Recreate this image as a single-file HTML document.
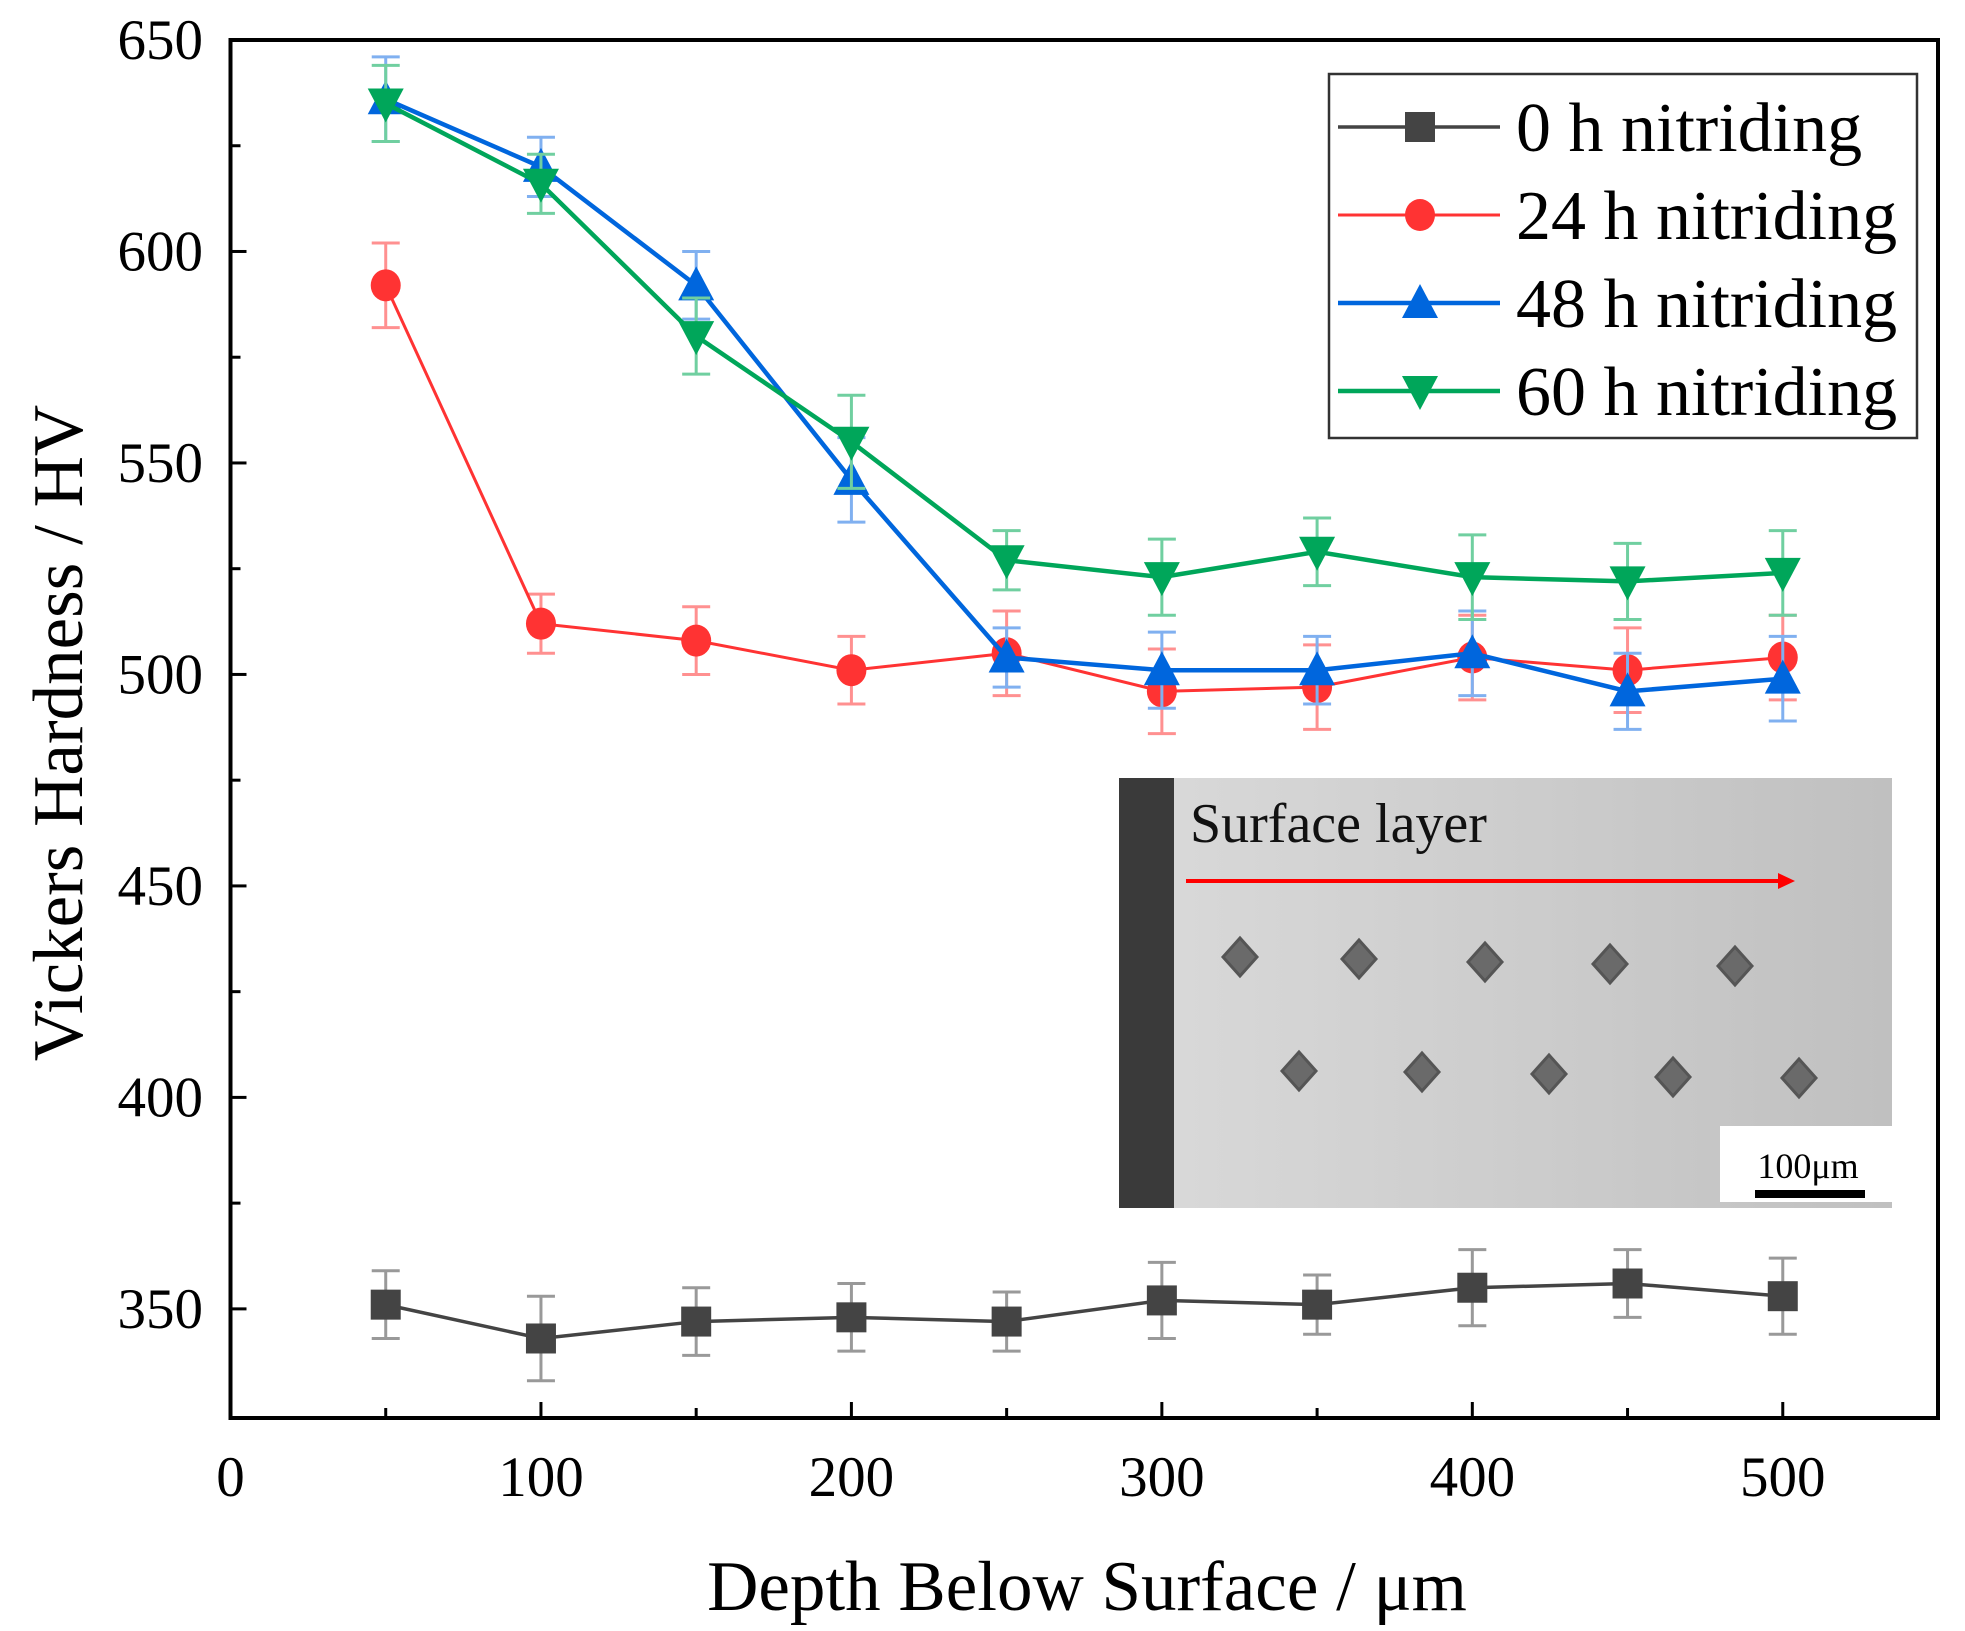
<!DOCTYPE html>
<html><head><meta charset="utf-8"><style>
html,body{margin:0;padding:0;background:#fff}
svg{display:block;font-family:"Liberation Serif",serif}
</style></head><body>
<svg id="chart" width="1965" height="1631" viewBox="0 0 1965 1631">
<g id="inset">
<defs><linearGradient id="bg" x1="0" x2="1" y1="0" y2="0"><stop offset="0" stop-color="#dadada"/><stop offset="1" stop-color="#c0c0c0"/></linearGradient></defs>
<rect x="1119" y="778" width="773" height="430" fill="url(#bg)"/>
<rect x="1119" y="778" width="55" height="430" fill="#3a3a3a"/>
<text x="1190" y="842" font-size="56" fill="#111">Surface layer</text>
<line x1="1186" y1="881" x2="1780" y2="881" stroke="#ff0000" stroke-width="4"/>
<polygon points="1795,881 1778,873 1778,889" fill="#ff0000"/>
<g fill="#666" id="indents"></g>
<rect x="1720" y="1126" width="172" height="76" fill="#fff"/>
<text x="1808" y="1178" font-size="36" text-anchor="middle" fill="#000">100μm</text>
<rect x="1755" y="1190" width="110" height="8" fill="#000"/>
</g>
<g id="plot"></g>
<g id="legend"></g>
</svg>
<script>
const xValues=[50,100,150,200,250,300,350,400,450,500];
const h0=[351,343,347,348,347,352,351,355,356,353];
const h0err=[8,10,8,8,7,9,7,9,8,9];
const h24=[592,512,508,501,505,496,497,504,501,504];
const h24err=[10,7,8,8,10,10,10,10,10,10];
const h48=[636,620,592,546,504,501,501,505,496,499];
const h48err=[10,7,8,10,7,9,8,10,9,10];
const h60=[635,616,580,555,527,523,529,523,522,524];
const h60err=[9,7,9,11,7,9,8,10,9,10];
const xTicks=[0,100,200,300,400,500];
const yTicks=[350,400,450,500,550,600,650];
const names=["0 h nitriding","24 h nitriding","48 h nitriding","60 h nitriding"];

const NS="http://www.w3.org/2000/svg";
const L=230.5,R=1938,T=40,B=1418,X0=0,X1=550,Y0=324.2,Y1=650;
const sx=v=>L+(v-X0)/(X1-X0)*(R-L);
const sy=v=>B-(v-Y0)/(Y1-Y0)*(B-T);
function mk(tag,attrs,parent){const e=document.createElementNS(NS,tag);for(const k in attrs)e.setAttribute(k,attrs[k]);parent.appendChild(e);return e;}
const plot=document.getElementById('plot');

const ind=document.getElementById('indents');
[[1240,957],[1359,959],[1485,962],[1610,964],[1735,966],[1299,1071],[1422,1072],[1549,1074],[1673,1077],[1799,1078]].forEach(p=>{
 const d=mk('polygon',{points:`${p[0]-17},${p[1]} ${p[0]},${p[1]-19} ${p[0]+17},${p[1]} ${p[0]},${p[1]+19}`,fill:'#6a6a6a',stroke:'#555','stroke-width':3},ind);
 
 
});

const frame=mk('rect',{x:L,y:T,width:R-L,height:B-T,fill:'none',stroke:'#000','stroke-width':4},plot);


for(let v=50;v<=500;v+=50){
 const t=mk('line',{x1:sx(v),x2:sx(v),y1:B,y2:B-(v%100?10:16),stroke:'#000','stroke-width':3},plot);
 
 
}
for(let v=350;v<650;v+=25){
 const t=mk('line',{x1:L,x2:L+(v%50?10:16),y1:sy(v),y2:sy(v),stroke:'#000','stroke-width':3},plot);
 
 
}
xTicks.forEach(v=>{const t=mk('text',{x:sx(v),y:1496,'font-size':57,'text-anchor':'middle'},plot);t.textContent=v;
 
 });
yTicks.forEach(v=>{const t=mk('text',{x:203,y:sy(v)+19,'font-size':57,'text-anchor':'end'},plot);t.textContent=v;
 
 });
const xt=mk('text',{x:1087,y:1610,'font-size':71,'text-anchor':'middle'},plot);xt.textContent='Depth Below Surface / μm';


const yt=mk('text',{x:0,y:0,'font-size':71,'text-anchor':'middle',transform:'translate(82,733) rotate(-90)'},plot);yt.textContent='Vickers Hardness / HV';



function marker(shape,x,y,c,parent){
 const s=16;let e;
 if(shape==='sq')e=mk('rect',{x:x-s+1,y:y-s+1,width:2*s-2,height:2*s-2,fill:c},parent);
 else if(shape==='ci')e=mk('ellipse',{cx:x,cy:y,rx:s-1,ry:s,fill:c},parent);
 else if(shape==='up')e=mk('polygon',{points:`${x},${y-s-3} ${x+s+2},${y+s-1} ${x-s-2},${y+s-1}`,fill:c},parent);
 else e=mk('polygon',{points:`${x},${y+s+3} ${x+s+2},${y-s+1} ${x-s-2},${y-s+1}`,fill:c},parent);
 return e;
}
const series=[
 {vals:h0,err:h0err,c:'#444444',ec:'#999',shape:'sq',w:3.5,name:'series-0h'},
 {vals:h24,err:h24err,c:'#ff3333',ec:'#ff9090',shape:'ci',w:3,name:'series-24h'},
 {vals:h48,err:h48err,c:'#0066dd',ec:'#80b0f0',shape:'up',w:4.5,name:'series-48h'},
 {vals:h60,err:h60err,c:'#00a65a',ec:'#70cfa0',shape:'dn',w:4.5,name:'series-60h'}];
series.forEach(s=>{
 const g=mk('g',{},plot);
 
 
 xValues.forEach((x,i)=>{
  const X=sx(x),a=sy(s.vals[i]+s.err[i]),b=sy(s.vals[i]-s.err[i]);
  const eb=mk('path',{d:`M${X},${a}V${b}M${X-14},${a}H${X+14}M${X-14},${b}H${X+14}`,stroke:s.ec,'stroke-width':3,fill:'none'},g);
  
  
 });
 const ln=mk('polyline',{points:xValues.map((x,i)=>sx(x)+','+sy(s.vals[i])).join(' '),fill:'none',stroke:s.c,'stroke-width':s.w},g);
 
 
 xValues.forEach((x,i)=>{const m=marker(s.shape,sx(x),sy(s.vals[i]),s.c,g);
  
  });
});
const lg=document.getElementById('legend');
const box=mk('rect',{x:1329,y:74,width:588,height:364,fill:'#fff',stroke:'#333','stroke-width':2.5},lg);


series.forEach((s,i)=>{
 const y=127+i*88;
 const g=mk('g',{},lg);
 
 
 mk('line',{x1:1338,x2:1500,y1:y,y2:y,stroke:s.c,'stroke-width':s.w},g);
 marker(s.shape,1420,y,s.c,g);
 const t=mk('text',{x:1516,y:y+24,'font-size':70},g);t.textContent=names[i];
});
</script>
</body></html>
